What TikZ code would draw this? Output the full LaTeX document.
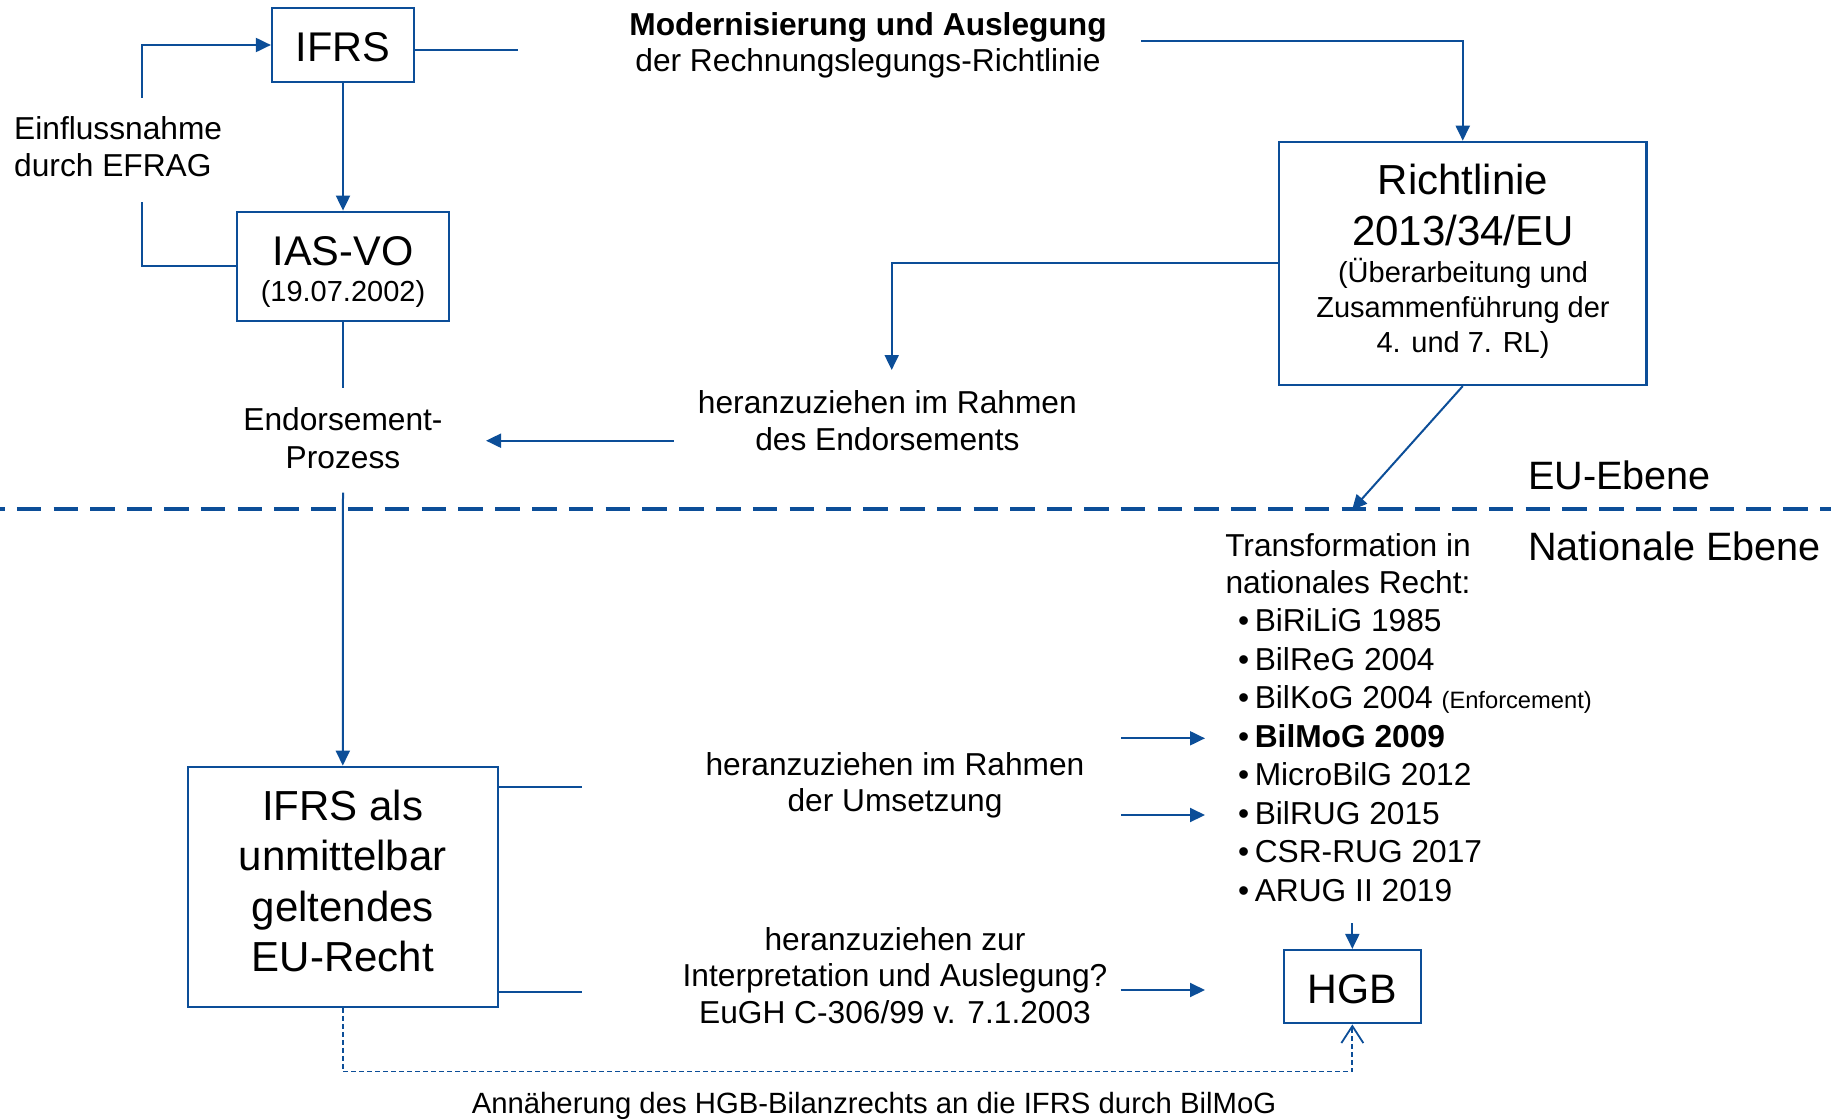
\documentclass[tikz,border=0pt]{standalone}
\usepackage{fontspec}
\setmainfont{Liberation Sans}
\usetikzlibrary{arrows.meta}
\definecolor{bl}{RGB}{12,78,152}
\newcommand{\fsz}[2]{\fontsize{#1pt}{#2pt}\selectfont}
\newcommand{\ctab}[1]{\begin{tabular}[t]{@{}c@{}}#1\end{tabular}}
\newcommand{\ltab}[1]{\begin{tabular}[t]{@{}l@{}}#1\end{tabular}}
\newcommand{\bul}{\makebox[16.6pt][l]{•}}
\begin{document}
\begin{tikzpicture}[x=1pt,y=-1pt,
  box/.style={draw=bl,line width=2.2pt,inner sep=0pt,fill=white},
  conn/.style={draw=bl,line width=2pt},
  arr/.style={conn,-{Triangle[length=15pt,width=14pt]}},
  txt/.style={inner sep=0pt,anchor=base,text=black}]
\useasboundingbox (0,0) rectangle (1831,1119);

% level separator
\coordinate (l0) at (0,509);
\coordinate (l1) at (1831,509);
\draw[draw=bl,line width=3.3pt,dash pattern=on 24.5pt off 12.3pt,dash phase=20pt] (l0) -- (l1);

% boxes
\node[box,minimum width=142pt,minimum height=73.4pt] (ifrs) at (343,45) {};
\node[box,minimum width=212pt,minimum height=109pt] (iasvo) at (343,266.2) {};
\node[box,minimum width=367.5pt,minimum height=243.2pt] (rl) at (1462.75,263.4) {};
\node[box,minimum width=309.6pt,minimum height=240pt] (ifrseu) at (342.8,886.7) {};
\node[box,minimum width=136.7pt,minimum height=73.3pt] (hgb) at (1352.35,986.65) {};

% texts
\node[txt,font=\fsz{41.5}{50}] (tifrs) at (343,61.7) {IFRS};
\node[txt,font=\fsz{41.5}{50}] (tias) at (343,265) {IAS-VO};
\node[txt,font=\fsz{29}{35}] (tdate) at (343,301.7) {(19.07.2002)};
\node[txt,anchor=base west,font=\fsz{31.7}{37.4}] (tefrag) at (14,139.3) {\ltab{Einflussnahme\\durch EFRAG}};
\node[txt,font=\fsz{31.7}{36.7}] (tmod) at (868,35) {\ctab{\textbf{Modernisierung und Auslegung}\\der Rechnungslegungs-Richtlinie}};
\node[txt,font=\fsz{42}{51.1}] (trl) at (1463,194.6) {\ctab{Richtlinie\\2013/34/EU}};
\node[txt,font=\fsz{29}{35}] (trl2) at (1463,282) {\ctab{(Überarbeitung und\\Zusammenführung der\\4. und 7. RL)}};
\node[txt,font=\fsz{31.7}{38.3}] (tend) at (343,430) {\ctab{Endorsement-\\Prozess}};
\node[txt,font=\fsz{31.7}{36.7}] (thz1) at (887.4,413.3) {\ctab{heranzuziehen im Rahmen\\des Endorsements}};
\node[txt,anchor=base west,font=\fsz{39.6}{45}] (teu) at (1528,489) {EU-Ebene};
\node[txt,anchor=base west,font=\fsz{39.6}{45}] (tnat) at (1528,560) {Nationale Ebene};
\node[txt,font=\fsz{31.7}{36.6}] (ttrans) at (1348,556.7) {\ctab{Transformation in\\nationales Recht:}};
\node[txt,anchor=base west,font=\fsz{31.7}{38.57}] (tlist) at (1238,631.5) {\ltab{\bul BiRiLiG 1985\\
\bul BilReG 2004\\
\bul BilKoG 2004 {\fsz{23.7}{28}(Enforcement)}\\
\bul\textbf{BilMoG 2009}\\
\bul MicroBilG 2012\\
\bul BilRUG 2015\\
\bul CSR-RUG 2017\\
\bul ARUG II 2019}};
\node[txt,font=\fsz{42}{50.6}] (tifrseu) at (342.8,820) {\ctab{IFRS als\\unmittelbar\\geltendes\\EU-Recht}};
\node[txt,font=\fsz{31.7}{36.7}] (thz2) at (895,775) {\ctab{heranzuziehen im Rahmen\\der Umsetzung}};
\node[txt,font=\fsz{31.7}{36.7}] (thz3) at (895,950) {\ctab{heranzuziehen zur\\Interpretation und Auslegung?\\EuGH C-306/99 v. 7.1.2003}};
\node[txt,font=\fsz{41.2}{50}] (thgb) at (1352.3,1003.3) {HGB};
\node[txt,font=\fsz{29.3}{35}] (tann) at (874,1113) {Annäherung des HGB-Bilanzrechts an die IFRS durch BilMoG};

% connectors
\coordinate (e1) at (141.6,201.7);
\coordinate (e2) at (141.6,97.7);
\draw[conn] (iasvo.west) -| (e1);
\draw[arr] (e2) |- (ifrs.west);
\draw[arr] (ifrs.south) -- (iasvo.north);
\coordinate (m1) at (518,50);
\draw[conn] (ifrs.east |- m1) -- (m1);
\coordinate (m2) at (1141,41);
\draw[arr] (m2) -| (rl.north);
\coordinate (h1) at (891.7,370);
\draw[arr] (rl.west) -| (h1);
\coordinate (h2) at (673.6,440.7);
\coordinate (h3) at (486,440.7);
\draw[arr] (h2) -- (h3);
\coordinate (en1) at (343,388);
\draw[conn] (iasvo.south) -- (en1);
\coordinate (en2) at (343,492.7);
\draw[arr] (en2) -- (ifrseu.north);
\coordinate (tr) at (1352,510);
\draw[arr] (rl.south) -- (tr);
\coordinate (u1) at (581.8,786.7);
\coordinate (u2) at (581.8,992.3);
\draw[conn] (ifrseu.east |- u1) -- (u1);
\draw[conn] (ifrseu.east |- u2) -- (u2);
\coordinate (r1a) at (1121,738.3);
\coordinate (r1b) at (1205,738.3);
\coordinate (r2a) at (1121,815);
\coordinate (r2b) at (1205,815);
\coordinate (r3a) at (1120.7,990);
\coordinate (r3b) at (1205,990);
\draw[arr] (r1a) -- (r1b);
\draw[arr] (r2a) -- (r2b);
\draw[arr] (r3a) -- (r3b);
\coordinate (hg) at (1352.35,923.3);
\draw[arr] (hg) -- (hgb.north);
\coordinate (d1) at (342.8,1071.5);
\draw[conn,line width=1.8pt,dash pattern=on 5pt off 3pt,-{Straight Barb[length=17pt,width=22pt]}] (ifrseu.south) -- (d1) -| (hgb.south);
\end{tikzpicture}
\end{document}
